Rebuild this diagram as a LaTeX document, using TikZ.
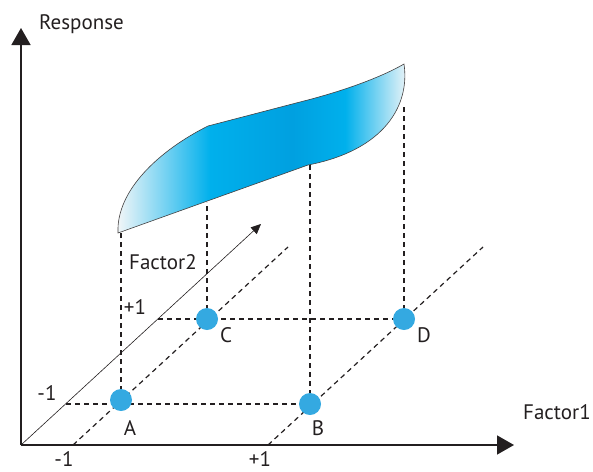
\documentclass[tikz,border=0pt]{standalone}
\usepackage{fontspec}
\setsansfont{PT Sans}
\usetikzlibrary{arrows.meta, positioning}
\definecolor{dotblue}{RGB}{52, 169, 225}
\definecolor{surfcyan}{RGB}{0, 176, 236}
\definecolor{surfblue}{RGB}{0, 160, 224}
\definecolor{surfwhite}{RGB}{246, 247, 248}
\definecolor{inkgray}{RGB}{35, 31, 32}
\pgfdeclarehorizontalshading{surfshade}{100bp}{color(0bp)=(surfwhite); color(25bp)=(surfwhite); color(41bp)=(surfcyan); color(55bp)=(surfblue); color(64bp)=(surfcyan); color(75bp)=(surfwhite); color(100bp)=(surfwhite)}

\begin{document}
\begin{tikzpicture}[x=1pt, y=-1pt,
  lbl/.style={font=\sffamily\fontsize{21}{25}\selectfont, text=inkgray, inner sep=0pt},
  axis/.style={line width=1.5pt, draw=inkgray, -{Triangle[length=17pt, width=19pt]}},
  guide/.style={line width=1.2pt, draw=inkgray, dash pattern=on 5pt off 4pt},
  run/.style={circle, fill=dotblue, minimum size=22pt, inner sep=0pt}]
  \useasboundingbox (0,0) rectangle (593,471);

  % axes
  \coordinate (o) at (21,445);
  \coordinate (yend) at (21,28);
  \coordinate (xend) at (514,445);
  \coordinate (zend) at (261,224);
  \draw[axis] (o) -- (yend);
  \draw[axis] (o) -- (xend);
  \draw[line width=0.6pt, draw=inkgray, -{Triangle[length=10pt, width=9pt]}] (o) -- (zend);

  % response surface
  \shadedraw[shading=surfshade, draw=inkgray!85, line width=0.6pt]
    (118,233) .. controls (116,190) and (160,150) .. (208,126)
    -- (300,102) .. controls (340,92) and (380,78) .. (404,64)
    .. controls (410,105) and (385,150) .. (308,165)
    -- cycle;

  % design points and guides
  \coordinate (pa) at (121,400);
  \coordinate (pb) at (310,404);
  \coordinate (pc) at (207,319);
  \coordinate (pd) at (404,319);
  \coordinate (sa) at (121,232);
  \coordinate (sb) at (310,165);
  \coordinate (sc) at (207,202);
  \coordinate (sd) at (404,104);
  \coordinate (xlo) at (73,445);
  \coordinate (xhi) at (268,445);
  \coordinate (zlo) at (66,404);
  \coordinate (zhi) at (158,319);
  \coordinate (endlo) at (288,247);
  \coordinate (endhi) at (483,247);

  \draw[guide] (xlo) -- (endlo);
  \draw[guide] (xhi) -- (endhi);
  \draw[guide] (zlo) -- (pb);
  \draw[guide] (zhi) -- (pd);
  \draw[guide] (pa) -- (sa);
  \draw[guide] (pb) -- (sb);
  \draw[guide] (pc) -- (sc);
  \draw[guide] (pd) -- (sd);

  \node[run] (a) at (pa) {};
  \node[run] (b) at (pb) {};
  \node[run] (c) at (pc) {};
  \node[run] (d) at (pd) {};

  % labels
  \node[lbl] (laba) at (130,428) {A};
  \node[lbl] (labb) at (318,428) {B};
  \node[lbl] (labc) at (226,335) {C};
  \node[lbl] (labd) at (424,335) {D};
  \node[lbl] (xm) at (64,459) {-1};
  \node[lbl] (xp) at (260,459) {+1};
  \node[lbl] (zm) at (47,393) {-1};
  \node[lbl] (zp) at (135,307) {+1};
  \node[lbl, anchor=base west] (resp) at (39,29) {Response};
  \node[lbl, anchor=base west] (fone) at (523,419) {Factor1};
  \node[lbl, anchor=base west] (ftwo) at (129,269) {Factor2};
\end{tikzpicture}
\end{document}
